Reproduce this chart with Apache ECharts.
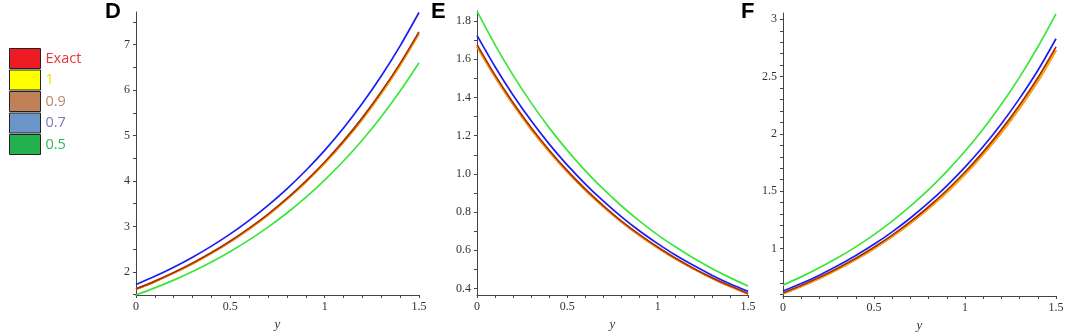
<!DOCTYPE html>
<html>
<head>
<meta charset="utf-8">
<script src="https://cdn.jsdelivr.net/npm/echarts@6/dist/echarts.min.js"></script>
<style>
  html, body { margin: 0; padding: 0; background: #fff; }
  #main { width: 1065px; height: 333px; }
</style>
</head>
<body>
<div id="main"></div>
<script>
// x positions (y variable on the horizontal axis)
var xs = [0, 0.1, 0.2, 0.3, 0.4, 0.5, 0.6, 0.7, 0.8, 0.9, 1, 1.1, 1.2, 1.3, 1.4, 1.5];
var names = ['Exact', '1', '0.9', '0.7', '0.5'];

// panel D
var dExact = [1.615, 1.785, 1.973, 2.180, 2.409, 2.663, 2.943, 3.252, 3.594, 3.972, 4.390, 4.852, 5.362, 5.926, 6.549, 7.238];
var dOne   = [1.615, 1.785, 1.973, 2.180, 2.409, 2.663, 2.943, 3.252, 3.594, 3.972, 4.390, 4.852, 5.362, 5.926, 6.549, 7.238];
var dNine  = [1.625, 1.796, 1.985, 2.194, 2.424, 2.679, 2.961, 3.272, 3.616, 3.997, 4.417, 4.882, 5.395, 5.963, 6.590, 7.283];
var dSeven = [1.720, 1.901, 2.101, 2.322, 2.566, 2.836, 3.134, 3.464, 3.828, 4.231, 4.675, 5.167, 5.711, 6.311, 6.975, 7.709];
var dFive  = [1.490, 1.646, 1.817, 2.007, 2.216, 2.447, 2.703, 2.985, 3.296, 3.640, 4.020, 4.440, 4.903, 5.415, 5.980, 6.604];

// panel E
var eExact = [1.665, 1.507, 1.363, 1.233, 1.116, 1.010, 0.914, 0.827, 0.748, 0.677, 0.613, 0.554, 0.502, 0.454, 0.411, 0.371];
var eOne   = [1.665, 1.507, 1.363, 1.233, 1.116, 1.010, 0.914, 0.827, 0.748, 0.677, 0.613, 0.554, 0.502, 0.454, 0.411, 0.371];
var eNine  = [1.677, 1.517, 1.373, 1.242, 1.124, 1.017, 0.920, 0.833, 0.753, 0.682, 0.617, 0.558, 0.505, 0.457, 0.414, 0.374];
var eSeven = [1.725, 1.561, 1.412, 1.278, 1.156, 1.046, 0.947, 0.857, 0.775, 0.701, 0.635, 0.574, 0.520, 0.470, 0.425, 0.385];
var eFive  = [1.852, 1.676, 1.516, 1.372, 1.241, 1.123, 1.016, 0.920, 0.832, 0.753, 0.681, 0.617, 0.558, 0.505, 0.457, 0.413];

// panel F
var fExact = [0.605, 0.669, 0.739, 0.817, 0.903, 0.998, 1.103, 1.219, 1.347, 1.489, 1.646, 1.820, 2.011, 2.223, 2.458, 2.730];
var fOne   = [0.605, 0.669, 0.739, 0.817, 0.903, 0.998, 1.103, 1.219, 1.347, 1.489, 1.646, 1.820, 2.011, 2.223, 2.458, 2.730];
var fNine  = [0.612, 0.677, 0.748, 0.827, 0.914, 1.010, 1.116, 1.234, 1.364, 1.508, 1.667, 1.843, 2.037, 2.252, 2.490, 2.760];
var fSeven = [0.628, 0.694, 0.767, 0.848, 0.938, 1.036, 1.145, 1.266, 1.399, 1.547, 1.710, 1.890, 2.089, 2.310, 2.553, 2.830];
var fFive  = [0.680, 0.752, 0.831, 0.918, 1.014, 1.121, 1.239, 1.369, 1.513, 1.673, 1.848, 2.043, 2.258, 2.495, 2.758, 3.048];

// tick labels / tick marks
var xLabels = [0, 0.5, 1, 1.5];
var xTicks = [0, 0.1, 0.2, 0.3, 0.4, 0.5, 0.6, 0.7, 0.8, 0.9, 1, 1.1, 1.2, 1.3, 1.4, 1.5];
var dLabels = [2, 3, 4, 5, 6, 7];
var dTicks = [1.5, 2, 2.5, 3, 3.5, 4, 4.5, 5, 5.5, 6, 6.5, 7, 7.5];
var eLabels = [0.4, 0.6, 0.8, 1.0, 1.2, 1.4, 1.6, 1.8];
var eTicks = [0.4, 0.5, 0.6, 0.7, 0.8, 0.9, 1.0, 1.1, 1.2, 1.3, 1.4, 1.5, 1.6, 1.7, 1.8];
var fLabels = [1, 1.5, 2, 2.5, 3];
var fTicks = [0.6, 0.7, 0.8, 0.9, 1, 1.1, 1.2, 1.3, 1.4, 1.5, 1.6, 1.7, 1.8, 1.9, 2, 2.1, 2.2, 2.3, 2.4, 2.5, 2.6, 2.7, 2.8, 2.9, 3];

var lineColors = {'Exact': '#e01010', '1': '#ffb000', '0.9': '#a33206', '0.7': '#1c1cf5', '0.5': '#3ae63a'};
var legendColors = {'Exact': '#ed1c24', '1': '#ffff00', '0.9': '#c08058', '0.7': '#6d96c8', '0.5': '#22b14c'};
var legendText = {'Exact': '#e8343c', '1': '#f0e000', '0.9': '#b98a66', '0.7': '#7a7ab8', '0.5': '#2cb84c'};

var myChart = echarts.init(document.getElementById('main'));

var serif = '"Liberation Serif", "DejaVu Serif", serif';
var grids = [
  {left: 136, top: 12, width: 283, height: 283},
  {left: 477, top: 11, width: 271, height: 284},
  {left: 783, top: 13, width: 273, height: 283}
];
var yRanges = [[1.49, 7.72], [0.366, 1.853], [0.585, 3.055]];
var yLabelSets = [dLabels, eLabels, fLabels];
var yTickSets = [dTicks, eTicks, fTicks];
var panels = [
  [dExact, dOne, dNine, dSeven, dFive],
  [eExact, eOne, eNine, eSeven, eFive],
  [fExact, fOne, fNine, fSeven, fFive]
];

var axisLineStyle = {color: '#444', width: 1};
var xAxes = [], yAxes = [], series = [];
grids.forEach(function (g, i) {
  g.outerBoundsMode = 'none';
  xAxes.push({
    type: 'value', gridIndex: i, min: 0, max: 1.5,
    name: 'y', nameLocation: 'middle', nameGap: 21,
    nameTextStyle: {fontFamily: serif, fontStyle: 'italic', fontSize: 13, color: '#333'},
    axisLine: {show: true, onZero: false, lineStyle: axisLineStyle},
    axisTick: {show: true, length: 3, customValues: xTicks, lineStyle: {color: '#444'}},
    axisLabel: {customValues: xLabels, fontFamily: serif, fontSize: 12, color: '#333', margin: 6},
    splitLine: {show: false}
  });
  yAxes.push({
    type: 'value', gridIndex: i, min: yRanges[i][0], max: yRanges[i][1],
    axisLine: {show: true, onZero: false, lineStyle: axisLineStyle},
    axisTick: {show: true, length: 3, customValues: yTickSets[i], lineStyle: {color: '#444'}},
    axisLabel: {
      customValues: yLabelSets[i], fontFamily: serif, fontSize: 12, color: '#333', margin: 6,
      formatter: i === 1 ? function (v) { return v.toFixed(1); } : function (v) { return String(v); }
    },
    splitLine: {show: false}
  });
  panels[i].forEach(function (vals, k) {
    var name = names[k];
    series.push({
      name: name, type: 'line', xAxisIndex: i, yAxisIndex: i,
      data: xs.map(function (x, j) { return [x, vals[j]]; }),
      smooth: 0.3, showSymbol: false, symbol: 'none',
      lineStyle: {color: lineColors[name], width: 1.7},
      itemStyle: {color: lineColors[name]}
    });
  });
});

var titleFont = {fontSize: 22, fontWeight: 'bold', color: '#000', fontFamily: '"Liberation Sans", Arial, sans-serif'};
var option = {
  animation: false,
  backgroundColor: '#fff',
  title: [
    {text: 'D', left: 105, top: 1, padding: 0, textStyle: titleFont},
    {text: 'E', left: 431, top: 1, padding: 0, textStyle: titleFont},
    {text: 'F', left: 741, top: 1, padding: 0, textStyle: titleFont}
  ],
  legend: {
    orient: 'vertical', left: 9, top: 48, padding: 0,
    itemWidth: 31, itemHeight: 20, itemGap: 0.5,
    icon: 'rect', selectedMode: false,
    textStyle: {fontSize: 14.5, fontFamily: '"Open Sans", "Noto Sans", sans-serif'},
    data: names.map(function (n) {
      return {
        name: n,
        itemStyle: {color: legendColors[n], borderColor: '#222', borderWidth: 1},
        textStyle: {color: legendText[n]}
      };
    })
  },
  grid: grids,
  xAxis: xAxes,
  yAxis: yAxes,
  series: series
};

myChart.setOption(option);
</script>
</body>
</html>
